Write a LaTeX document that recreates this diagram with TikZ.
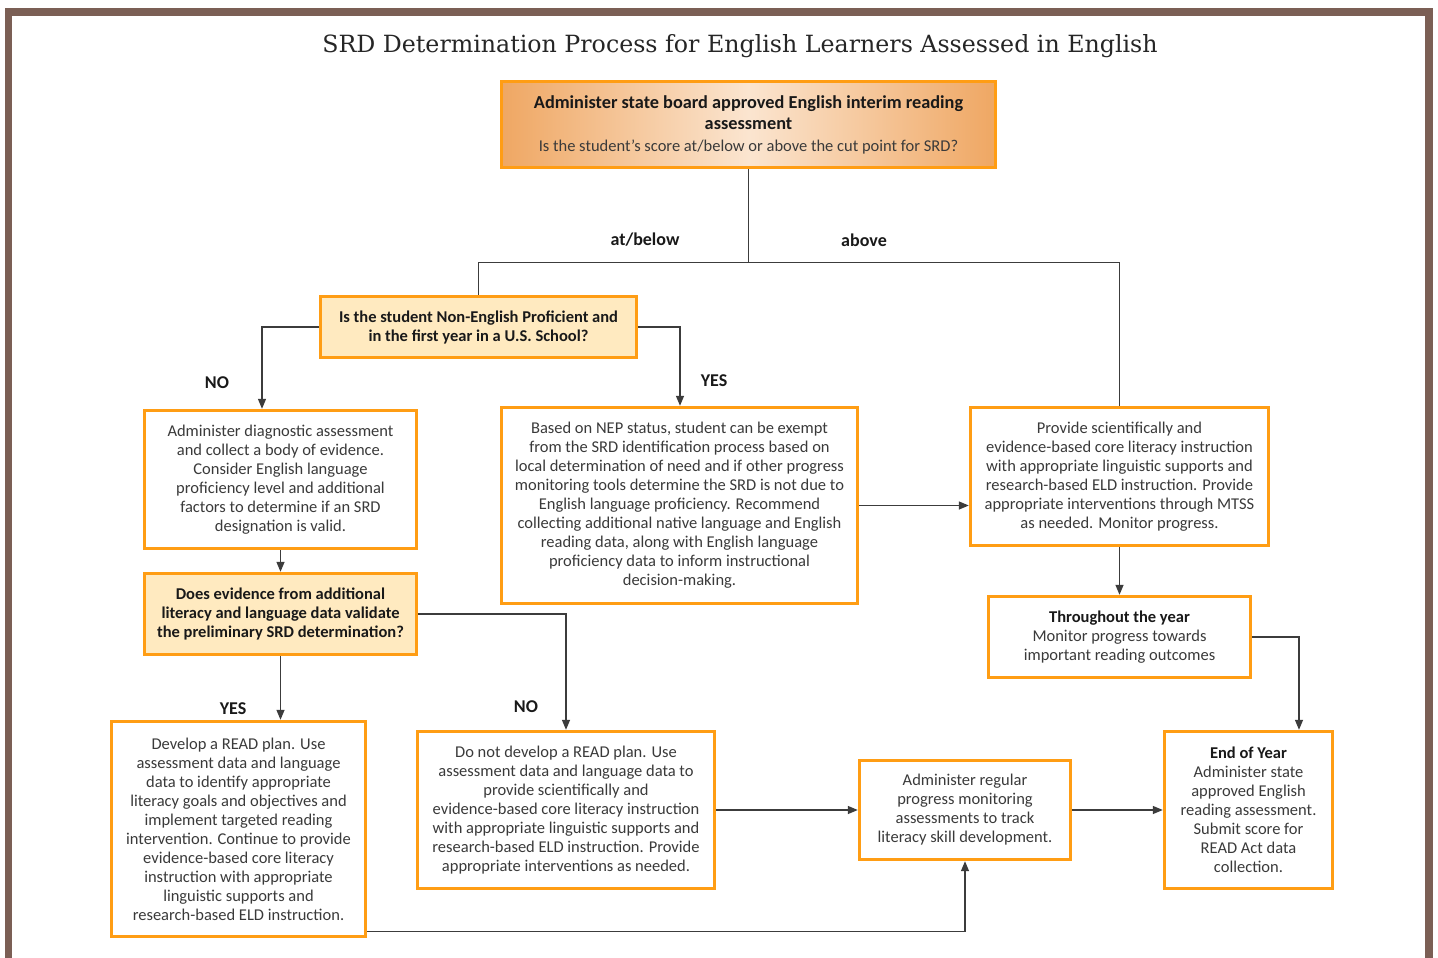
\documentclass[tikz,border=0pt]{standalone}
\usepackage{fontspec}
\setmainfont{Carlito}
\newfontfamily\titlefont{DejaVu Serif}
\usetikzlibrary{arrows.meta,calc}
\definecolor{boxorange}{HTML}{FF9D14}
\definecolor{qyellow}{HTML}{FFEAC0}
\definecolor{gradedge}{HTML}{EFA763}
\definecolor{gradmid}{HTML}{FBE5D0}
\definecolor{framebrown}{HTML}{7B5F55}
\definecolor{txtgray}{HTML}{3A3A3A}
\definecolor{linegray}{HTML}{3C3C3C}
\tikzset{
  box/.style={draw=boxorange, line width=3.4pt, fill=white, align=center, inner sep=0pt,
    text=txtgray, font=\fontsize{16.5}{19}\selectfont},
  qbox/.style={box, fill=qyellow, text=black!90, font=\fontsize{16.5}{19}\selectfont\bfseries},
  conn/.style={draw=linegray, line width=1.3pt},
  arr/.style={conn, -{Triangle[length=10pt,width=8pt]}},
  lbl/.style={font=\fontsize{18}{20}\selectfont\bfseries, text=black!90, inner sep=0pt}
}
\begin{document}
\begin{tikzpicture}[x=1pt,y=-1pt]
\useasboundingbox (0,0) rectangle (1438,958);
\fill[white] (0,0) rectangle (1438,958);
\draw[framebrown, line width=7.5pt] (8.5,12) rectangle (1429,962);

\node (title) at (740,46.5) {\titlefont\fontsize{23.7}{27}\selectfont\color{black!85}SRD Determination Process for English Learners Assessed in English};

\node[box, minimum width=494pt, minimum height=86pt, left color=gradedge, right color=gradedge, middle color=gradmid, font=\fontsize{16.5}{21.5}\selectfont] (T) at (748.5,124.5)
  {{\fontsize{18.3}{21.5}\selectfont\bfseries\color{black!90}Administer state board approved English interim reading}\\{\fontsize{18.3}{21.5}\selectfont\bfseries\color{black!90}assessment}\\Is the student’s score at/below or above the cut point for SRD?};

\node[qbox, minimum width=316pt, minimum height=61pt] (Q1) at (478.5,327)
  {Is the student Non-English Proficient and\\in the first year in a U.S. School?};

\node[box, minimum width=272pt, minimum height=138pt] (A) at (280.5,479.5)
  {Administer diagnostic assessment\\and collect a body of evidence.\\Consider English language\\proficiency level and additional\\factors to determine if an SRD\\designation is valid.};

\node[box, minimum width=356pt, minimum height=196pt] (B) at (679.5,505.5)
  {Based on NEP status, student can be exempt\\from the SRD identification process based on\\local determination of need and if other progress\\monitoring tools determine the SRD is not due to\\English language proficiency. Recommend\\collecting additional native language and English\\reading data, along with English language\\proficiency data to inform instructional\\decision-making.};

\node[box, minimum width=298pt, minimum height=138pt] (C) at (1119.5,476.5)
  {Provide scientifically and\\evidence-based core literacy instruction\\with appropriate linguistic supports and\\research-based ELD instruction. Provide\\appropriate interventions through MTSS\\as needed. Monitor progress.};

\node[qbox, minimum width=272pt, minimum height=81pt] (Q2) at (280.5,614)
  {Does evidence from additional\\literacy and language data validate\\the preliminary SRD determination?};

\node[box, minimum width=262pt, minimum height=81pt] (D) at (1119.5,637)
  {\textbf{\color{black!90}Throughout the year}\\Monitor progress towards\\important reading outcomes};

\node[box, minimum width=254pt, minimum height=215pt] (E) at (238.5,829)
  {Develop a READ plan. Use\\assessment data and language\\data to identify appropriate\\literacy goals and objectives and\\implement targeted reading\\intervention. Continue to provide\\evidence-based core literacy\\instruction with appropriate\\linguistic supports and\\research-based ELD instruction.};

\node[box, minimum width=297pt, minimum height=157pt] (F) at (566,810)
  {Do not develop a READ plan. Use\\assessment data and language data to\\provide scientifically and\\evidence-based core literacy instruction\\with appropriate linguistic supports and\\research-based ELD instruction. Provide\\appropriate interventions as needed.};

\node[box, minimum width=211pt, minimum height=99pt] (G) at (965,810)
  {Administer regular\\progress monitoring\\assessments to track\\literacy skill development.};

\node[box, minimum width=168pt, minimum height=157pt] (H) at (1248.5,810)
  {\textbf{\color{black!90}End of Year}\\Administer state\\approved English\\reading assessment.\\Submit score for\\READ Act data\\collection.};

% junction coordinates
\coordinate (jn) at (748.5,262.5);
\coordinate (nojn) at (262,327);
\coordinate (yesjn) at (680,327);
\coordinate (djn) at (1299,637);
\coordinate (es) at ([yshift=7pt]E.south east);

% connectors
\draw[conn] (T.south) -- (jn);
\draw[conn] (Q1.north) |- (jn) -| (C.north);
\draw[arr] (Q1.west) -- (nojn) -- (nojn |- A.north);
\draw[arr] (Q1.east) -- (yesjn) -- (yesjn |- B.north);
\draw[arr] (A.south) -- (Q2.north);
\draw[arr] (Q2.south) -- (Q2.south |- E.north);
\draw[arr] (Q2.east) -| (F.north);
\draw[arr] (B.east) -- (B.east -| C.west);
\draw[arr] (C.south) -- (D.north);
\draw[arr] (D.east) -- (djn) -- (djn |- H.north);
\draw[arr] (F.east) -- (G.west);
\draw[arr] (G.east) -- (H.west);
\draw[arr] (es) -| (G.south);

% labels
\node[lbl] (lab1) at (645,240) {at/below};
\node[lbl] (lab2) at (864,240) {above};
\node[lbl] (lab3) at (217,383) {NO};
\node[lbl] (lab4) at (714,381) {YES};
\node[lbl] (lab5) at (233,709) {YES};
\node[lbl] (lab6) at (526,707) {NO};
\end{tikzpicture}
\end{document}
